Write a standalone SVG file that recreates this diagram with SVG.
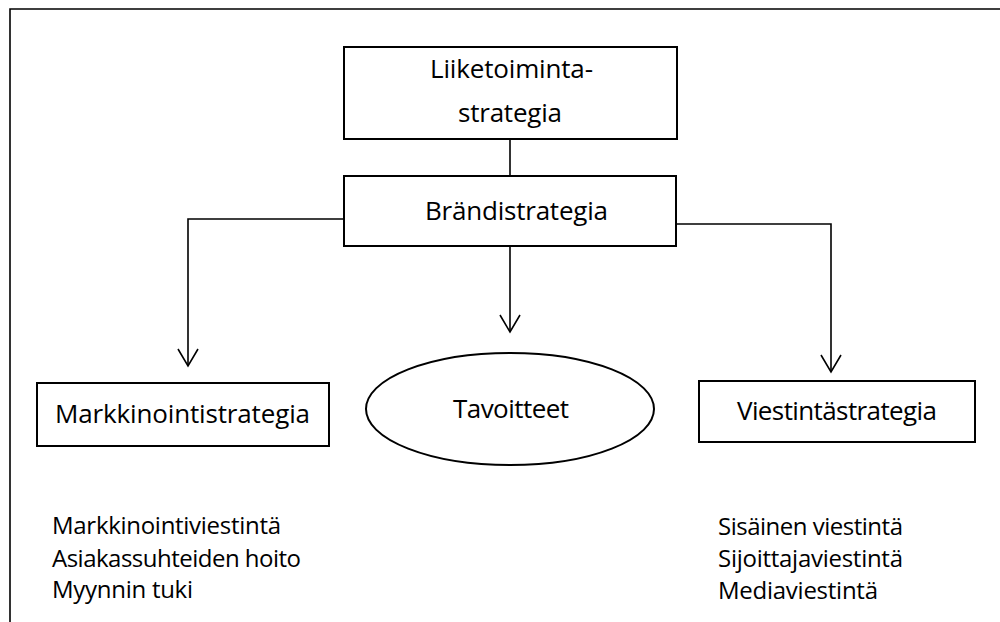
<svg xmlns="http://www.w3.org/2000/svg" width="1000" height="622" viewBox="0 0 1000 622">
  <style>
    .box { fill: #ffffff; stroke: #000000; stroke-width: 2; }
    .conn { fill: none; stroke: #000000; stroke-width: 1.6; }
    .frame { fill: none; stroke: #000000; stroke-width: 1.6; }
    .lbl { font-family: "Open Sans", "Noto Sans", "Liberation Sans", sans-serif; font-size: 26px; fill: #000000; }
    .item { font-family: "Open Sans", "Noto Sans", "Liberation Sans", sans-serif; font-size: 24px; fill: #000000; }
  </style>
  <defs>
    <marker id="vhead" markerUnits="userSpaceOnUse" orient="auto" refX="0" refY="0" markerWidth="20" markerHeight="24" overflow="visible">
      <path d="M-17,-10 L0,0 L-17,10" fill="none" stroke="#000000" stroke-width="1.6"/>
    </marker>
  </defs>

  <rect width="1000" height="622" fill="#ffffff"/>

  <!-- page frame: top and left edges -->
  <path class="frame" d="M10,622 V9 H1000"/>

  <!-- connectors -->
  <g id="connectors">
    <line class="conn" x1="510" y1="139" x2="510" y2="176"/>
    <path class="conn" d="M344,219 H188 V366" marker-end="url(#vhead)"/>
    <line class="conn" x1="510" y1="246" x2="510" y2="332" marker-end="url(#vhead)"/>
    <path class="conn" d="M676,224 H831 V372" marker-end="url(#vhead)"/>
  </g>

  <g id="liiketoimintastrategia">
    <rect class="box" x="344" y="47" width="333" height="92"/>
    <text class="lbl" x="430" y="78" textLength="163">Liiketoiminta-</text>
    <text class="lbl" x="458" y="122" textLength="104">strategia</text>
  </g>

  <g id="brandistrategia">
    <rect class="box" x="344" y="176" width="332" height="70"/>
    <text class="lbl" x="425" y="220" textLength="183">Brändistrategia</text>
  </g>

  <g id="markkinointistrategia">
    <rect class="box" x="37" y="383" width="292" height="63"/>
    <text class="lbl" x="55" y="423" textLength="255">Markkinointistrategia</text>
  </g>

  <g id="tavoitteet">
    <ellipse class="box" cx="510" cy="409" rx="144" ry="56"/>
    <text class="lbl" x="453" y="418" textLength="116">Tavoitteet</text>
  </g>

  <g id="viestintastrategia">
    <rect class="box" x="699" y="381" width="276" height="61"/>
    <text class="lbl" x="737" y="420" textLength="200">Viestintästrategia</text>
  </g>

  <g id="markkinointi-tehtavat">
    <text class="item" x="52" y="534" textLength="229">Markkinointiviestintä</text>
    <text class="item" x="52" y="567" textLength="249">Asiakassuhteiden hoito</text>
    <text class="item" x="52" y="598" textLength="141">Myynnin tuki</text>
  </g>

  <g id="viestinta-tehtavat">
    <text class="item" x="718" y="535" textLength="185">Sisäinen viestintä</text>
    <text class="item" x="718" y="567" textLength="185">Sijoittajaviestintä</text>
    <text class="item" x="718" y="599" textLength="160">Mediaviestintä</text>
  </g>
</svg>
